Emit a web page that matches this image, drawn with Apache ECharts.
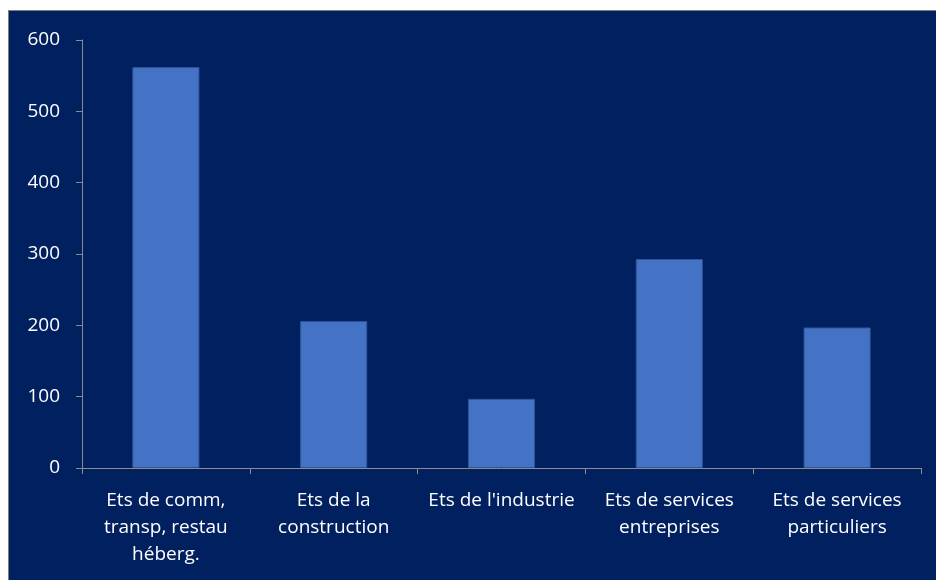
<!DOCTYPE html>
<html>
<head>
<meta charset="utf-8">
<script src="https://cdn.jsdelivr.net/npm/echarts@6/dist/echarts.min.js"></script>
<style>
html, body { margin: 0; padding: 0; background: #ffffff; overflow: hidden; width: 936px; height: 580px; }
#chart { position: absolute; left: 8px; top: 10px; width: 928px; height: 570px; background: #002060; border-left: 1px solid #7f7f7f; border-top: 1px solid #7f7f7f; }
</style>
</head>
<body>
<div id="chart"></div>
<script>
const categories = [
  "Ets de comm,\ntransp, restau\nhéberg.",
  "Ets de la\nconstruction",
  "Ets de l'industrie",
  "Ets de services\nentreprises",
  "Ets de services\nparticuliers"
];
const values = [562, 206, 97, 293, 197];
const yTicks = { min: 0, max: 600, interval: 100 };

const chart = echarts.init(document.getElementById('chart'), null, { renderer: 'canvas' });
chart.setOption({
  backgroundColor: '#002060',
  animation: false,
  grid: { left: 73, right: 16, top: 29, bottom: 113, containLabel: false },
  xAxis: {
    type: 'category',
    data: categories,
    axisLine: { show: true, lineStyle: { color: '#8c8c8c', width: 1 } },
    axisTick: { show: true, length: 6, lineStyle: { color: '#8c8c8c' }, alignWithLabel: false },
    axisLabel: { color: '#ffffff', fontFamily: 'Open Sans', fontSize: 19, lineHeight: 27, margin: 19, interval: 0 }
  },
  yAxis: {
    type: 'value',
    min: yTicks.min, max: yTicks.max, interval: yTicks.interval,
    axisLine: { show: true, lineStyle: { color: '#8c8c8c', width: 1 } },
    axisTick: { show: true, length: 6, lineStyle: { color: '#8c8c8c' } },
    splitLine: { show: false },
    axisLabel: { color: '#ffffff', fontFamily: 'Open Sans', fontSize: 19, margin: 22 }
  },
  series: [{
    type: 'bar',
    data: values,
    barWidth: '40%',
    itemStyle: { color: '#4472c4', borderColor: '#2f5597', borderWidth: 1 }
  }]
});
</script>
</body>
</html>
